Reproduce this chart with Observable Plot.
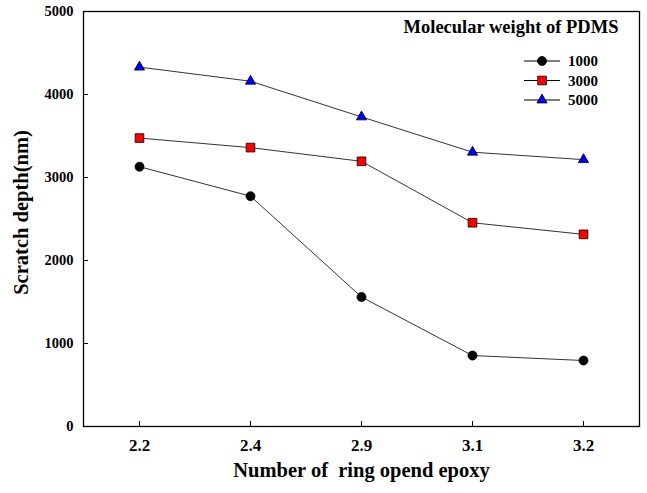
<!DOCTYPE html>
<html><head><meta charset="utf-8">
<script src="https://cdn.jsdelivr.net/npm/d3@7"></script>
<script src="https://cdn.jsdelivr.net/npm/@observablehq/plot@0.6"></script>
<style>
body{margin:0;background:#fff}
#wrap{position:relative;width:647px;height:493px}
#wrap svg{position:absolute;left:0;top:0}
</style>
</head><body><div id="wrap"></div>
<script>
const categories = ["2.2", "2.4", "2.9", "3.1", "3.2"];
const seriesNames = ["1000", "3000", "5000"];
const values1000 = [3130, 2775, 1560, 855, 795];
const values3000 = [3475, 3360, 3195, 2455, 2315];
const values5000 = [4330, 4160, 3730, 3305, 3215];
const yTicks = [0, 1000, 2000, 3000, 4000, 5000];
const seriesColors = ["#000000", "#ff0000", "#0000ff"];
const seriesSymbols = ["circle", "square", "triangle"];
const seriesR = [4.5, 4.9, 3.8];
const legendTitle = "Molecular weight of PDMS";
const xTitle = "Number of\u00a0 ring opend epoxy";
const yTitle = "Scratch depth(nm)";

const allValues = [values1000, values3000, values5000];
const data = [];
allValues.forEach((vals, si) => vals.forEach((v, i) => data.push({x: categories[i], y: v, s: seriesNames[si]})));

const font = "Liberation Serif";

const dotMarks = seriesNames.map((name, si) =>
  Plot.dot(data.filter(d => d.s === name), {
    x: "x", y: "y", symbol: () => seriesSymbols[si], r: seriesR[si],
    fill: seriesColors[si], stroke: "#000", strokeWidth: 0.8
  })
);

const chart = Plot.plot({
  width: 647, height: 493,
  marginLeft: 83, marginRight: 8, marginTop: 11, marginBottom: 67,
  style: {fontFamily: font, fontSize: "14.5px", color: "#000", background: "transparent", overflow: "visible"},
  x: {type: "point", domain: categories, padding: 0.5, label: null},
  y: {domain: [0, 5000], label: null},
  symbol: {type: "identity"},
  marks: [
    Plot.axisY(yTicks, {tickSize: -5, tickPadding: 15, label: null, stroke: "#000", tickFormat: d => String(d), fontFamily: font, fontWeight: "bold", fontSize: 14.5}),
    Plot.axisX(categories, {tickSize: -5, tickPadding: 17, label: null, stroke: "#000", fontFamily: font, fontWeight: "bold", fontSize: 17}),
    Plot.frame({stroke: "#000", strokeWidth: 1.3}),
    Plot.line(data, {x: "x", y: "y", z: "s", stroke: "#333", strokeWidth: 1}),
    ...dotMarks,
    Plot.text([yTitle], {frameAnchor: "left", textAnchor: "middle", dx: -62, dy: -6.5, rotate: -90, fontSize: 20.5, fontWeight: "bold", fontFamily: font}),
    Plot.text([xTitle], {frameAnchor: "bottom", textAnchor: "middle", dy: 50.5, fontSize: 20.5, fontWeight: "bold", fontFamily: font})
  ]
});
document.getElementById("wrap").appendChild(chart);

// legend overlay
const lsvg = d3.select("#wrap").append("svg")
  .attr("width", 647).attr("height", 493)
  .attr("font-family", font).attr("font-weight", "bold")
  .style("pointer-events", "none");
lsvg.append("text").attr("x", 511).attr("y", 33).attr("text-anchor", "middle")
  .attr("font-size", 18.5).text(legendTitle);
const symMap = {circle: d3.symbolCircle, square: d3.symbolSquare, triangle: d3.symbolTriangle};
const rowY = [61, 80.5, 100];
seriesNames.forEach((name, si) => {
  const g = lsvg.append("g").attr("transform", `translate(0,${rowY[si]})`);
  g.append("line").attr("x1", 524).attr("x2", 560).attr("y1", 0).attr("y2", 0).attr("stroke", "#000").attr("stroke-width", 1);
  g.append("path").attr("transform", "translate(542,0)")
    .attr("d", d3.symbol(symMap[seriesSymbols[si]], Math.PI * seriesR[si] * seriesR[si])())
    .attr("fill", seriesColors[si]).attr("stroke", "#000").attr("stroke-width", 0.8);
  g.append("text").attr("x", 568).attr("y", 5).attr("font-size", 15).text(name);
});
</script>
</body></html>
